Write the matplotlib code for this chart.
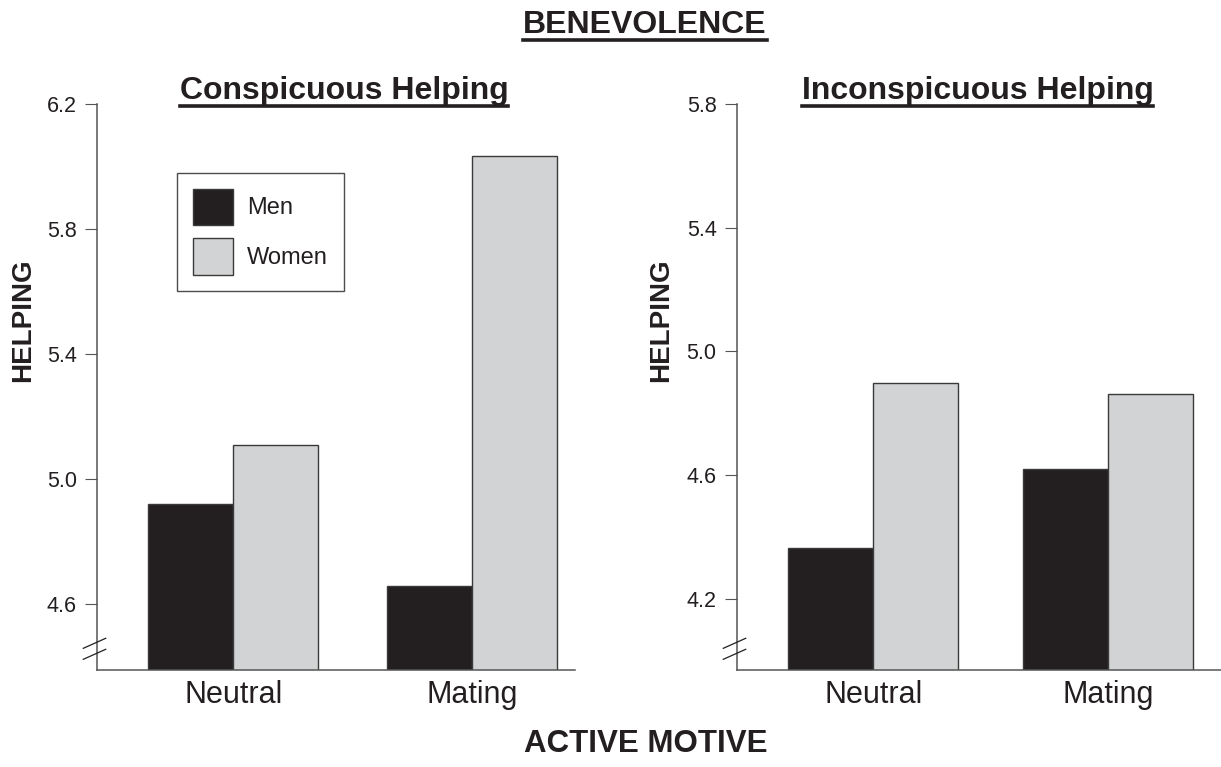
import matplotlib
matplotlib.use('Agg')
import matplotlib.pyplot as plt
from matplotlib.patches import Patch
from matplotlib.lines import Line2D
import numpy as np

plt.rcParams['font.family'] = ['Liberation Sans', 'DejaVu Sans']

# ---- data ----
motives = ['Neutral', 'Mating']
groups = ['Men', 'Women']
consp_men = [4.92, 4.66]
consp_women = [5.11, 6.035]
incon_men = [4.364, 4.621]
incon_women = [4.898, 4.861]
consp_ticks = [4.6, 5.0, 5.4, 5.8, 6.2]
incon_ticks = [4.2, 4.6, 5.0, 5.4, 5.8]
consp_tick_labels = ['4.6', '5.0', '5.4', '5.8', '6.2']
incon_tick_labels = ['4.2', '4.6', '5.0', '5.4', '5.8']

W, H = 1221, 767
fig = plt.figure(figsize=(W / 100, H / 100), dpi=100)


def fx(px):
    return px / W


def fy(py):
    return 1 - py / H


MEN_C = '#231f20'
WOMEN_C = '#d1d3d4'
EDGE = '#3a3a3a'
SPINE = '#555555'
TXT = '#231f20'


def panel(left_px, right_px, men, women, ticks, tlabels, ylim, xlim, bw):
    top_px, bot_px = 104, 670
    ax = fig.add_axes([fx(left_px), fy(bot_px), (right_px - left_px) / W,
                       (bot_px - top_px) / H])
    x = np.arange(len(motives))
    ax.bar(x - bw / 2, men, bw, color=MEN_C, edgecolor=EDGE, linewidth=1.0)
    ax.bar(x + bw / 2, women, bw, color=WOMEN_C, edgecolor=EDGE, linewidth=1.0)
    ax.set_ylim(*ylim)
    ax.set_xlim(*xlim)
    ax.set_yticks(ticks)
    ax.set_yticklabels(tlabels)
    ax.set_xticks(x)
    ax.set_xticklabels(motives)
    for s in ['top', 'right']:
        ax.spines[s].set_visible(False)
    for s in ['left', 'bottom']:
        ax.spines[s].set_color(SPINE)
        ax.spines[s].set_linewidth(1.1)
    ax.tick_params(axis='y', length=8.5, width=0.8, color=SPINE, pad=6,
                   labelsize=15.5, labelcolor=TXT)
    ax.tick_params(axis='x', length=0, pad=7, labelsize=22, labelcolor=TXT)
    ax.set_facecolor('none')
    return ax


ax1 = panel(97, 575, consp_men, consp_women, consp_ticks, consp_tick_labels,
            (4.39, 6.2), (-0.572, 1.433), 0.357)
ax2 = panel(736.7, 1221, incon_men, incon_women, incon_ticks, incon_tick_labels,
            (3.97, 5.8), (-0.581, 1.48), 0.362)

# legend
handles = [Patch(facecolor=MEN_C, edgecolor=EDGE, linewidth=1.0, label=groups[0]),
           Patch(facecolor=WOMEN_C, edgecolor=EDGE, linewidth=1.0, label=groups[1])]
leg = ax1.legend(handles=handles, loc='upper left',
                 bbox_to_anchor=((177 - 97) / 478, (670 - 172.7) / 566),
                 borderaxespad=0, fancybox=False, frameon=True,
                 edgecolor='#231f20', fontsize=17, handlelength=1.69,
                 handleheight=2.0, labelspacing=0.55, handletextpad=0.6,
                 borderpad=0.68)
leg.get_frame().set_linewidth(1.0)
for t in leg.get_texts():
    t.set_color(TXT)

# axis break marks
for (xa, xb) in [(83.3, 105.7), (723.3, 745.7)]:
    for (ya, yb) in [(648.3, 638.3), (659.3, 649.3)]:
        fig.add_artist(Line2D([fx(xa), fx(xb)], [fy(ya), fy(yb)],
                              color=TXT, lw=0.9))

# y labels
fig.text(fx(23), fy(320), 'HELPING', rotation=90, ha='center', va='center',
         fontsize=20, fontweight='bold', color=TXT)
fig.text(fx(661), fy(320), 'HELPING', rotation=90, ha='center', va='center',
         fontsize=20, fontweight='bold', color=TXT)

# titles
titles = []
titles.append((fig.text(fx(645), fy(33), 'BENEVOLENCE', ha='center',
                        va='baseline', fontsize=23, fontweight='bold',
                        color=TXT), 33))
titles.append((fig.text(fx(344), fy(99), 'Conspicuous Helping', ha='center',
                        va='baseline', fontsize=23, fontweight='bold',
                        color=TXT), 99))
titles.append((fig.text(fx(977.5), fy(99), 'Inconspicuous Helping',
                        ha='center', va='baseline', fontsize=23,
                        fontweight='bold', color=TXT), 99))
fig.text(fx(646), fy(752), 'ACTIVE MOTIVE', ha='center', va='baseline',
         fontsize=22.5, fontweight='bold', color=TXT)

fig.canvas.draw()
renderer = fig.canvas.get_renderer()
for t, base in titles:
    bb = t.get_window_extent(renderer)
    yline = fy(base + 6.5)
    fig.add_artist(Line2D([bb.x0 / W, bb.x1 / W], [yline, yline],
                          color=TXT, lw=2.6))

fig.savefig('out.png', dpi=100)
